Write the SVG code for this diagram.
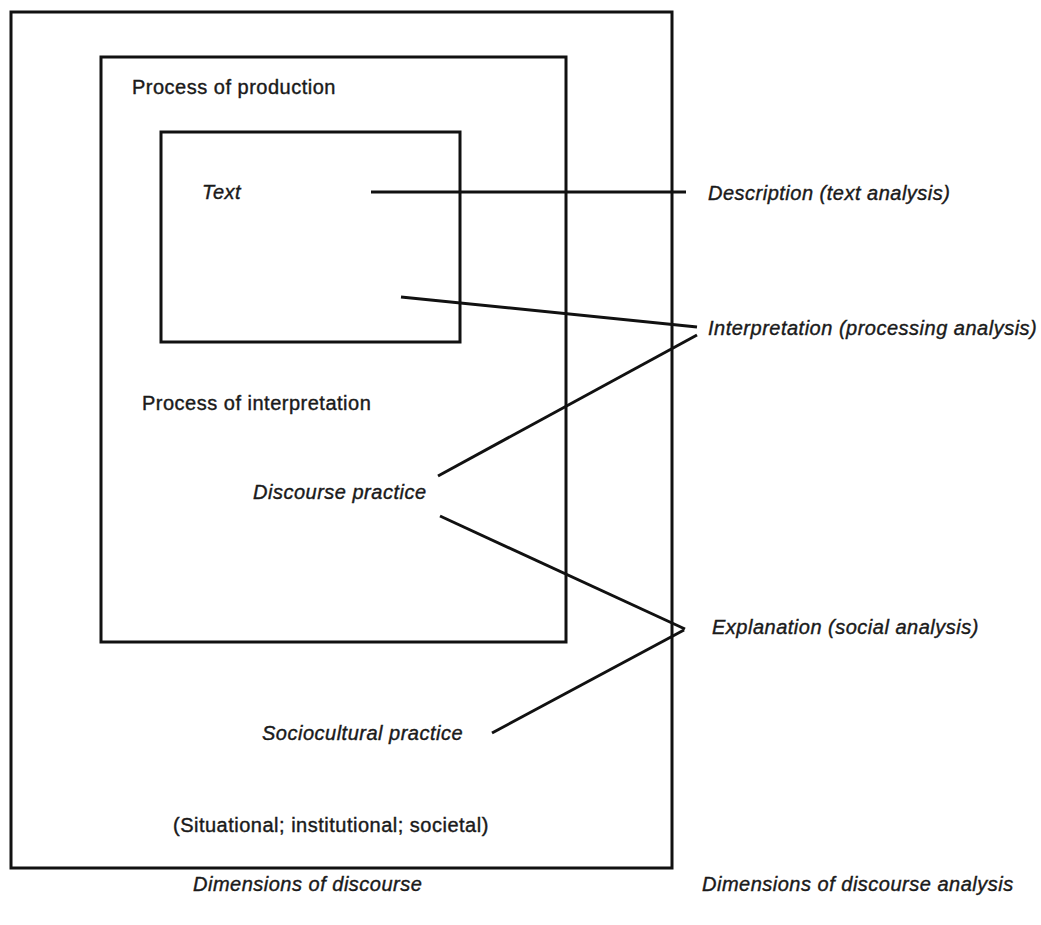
<svg xmlns="http://www.w3.org/2000/svg" width="1041" height="925" viewBox="0 0 1041 925">
<style>
.box{fill:none;stroke:#111;stroke-width:3}
.ln{fill:none;stroke:#111;stroke-width:3;stroke-linecap:butt}
.t{font-family:"Liberation Sans",Arial,sans-serif;font-size:20px;letter-spacing:0.5px;fill:#1a1a1a;stroke:#1a1a1a;stroke-width:0.4}
.i{font-style:italic}
</style>
<rect width="1041" height="925" fill="#fff"/>
<g id="outer-box"><rect class="box" x="11" y="12" width="661" height="856"/></g>
<g id="middle-box"><rect class="box" x="101" y="57" width="465" height="585"/></g>
<g id="inner-box"><rect class="box" x="161" y="132" width="299" height="210"/></g>
<g id="connectors">
<line class="ln" x1="371" y1="192" x2="686" y2="192"/>
<line class="ln" x1="401" y1="297" x2="697" y2="327"/>
<line class="ln" x1="697" y1="335" x2="438" y2="476"/>
<line class="ln" x1="440" y1="516" x2="685" y2="629"/>
<line class="ln" x1="684" y1="630" x2="492" y2="733"/>
</g>
<g id="process-production"><text class="t" x="132" y="94">Process of production</text></g>
<g id="text-node"><text class="t i" x="202" y="199">Text</text></g>
<g id="process-interpretation"><text class="t" x="142" y="410">Process of interpretation</text></g>
<g id="discourse-practice"><text class="t i" x="253" y="499">Discourse practice</text></g>
<g id="sociocultural-practice"><text class="t i" x="262" y="740">Sociocultural practice</text></g>
<g id="situational"><text class="t" x="173" y="832">(Situational; institutional; societal)</text></g>
<g id="description"><text class="t i" x="708" y="200">Description (text analysis)</text></g>
<g id="interpretation"><text class="t i" x="708" y="335">Interpretation (processing analysis)</text></g>
<g id="explanation"><text class="t i" x="712" y="634">Explanation (social analysis)</text></g>
<g id="dim-discourse"><text class="t i" x="193" y="891">Dimensions of discourse</text></g>
<g id="dim-analysis"><text class="t i" x="702" y="891">Dimensions of discourse analysis</text></g>
</svg>
